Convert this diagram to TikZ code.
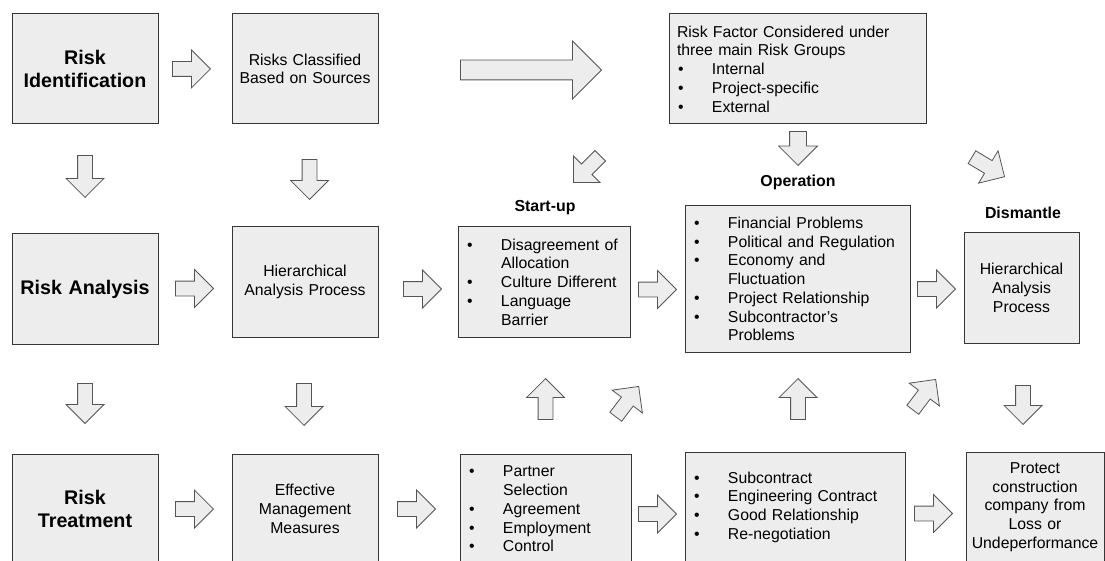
\documentclass[tikz,border=0pt]{standalone}
\usepackage{fontspec}
\setmainfont{Liberation Sans}
\usetikzlibrary{shapes.arrows}
\definecolor{boxgray}{RGB}{237,237,237}
\definecolor{edgegray}{RGB}{55,55,55}
\newcommand{\itm}{\makebox[35pt][l]{\hspace{1pt}\textbullet}}
\newcommand{\ind}{\hspace*{35pt}}

\begin{document}
\begin{tikzpicture}[x=1pt, y=-1pt,
    box/.style={draw=edgegray, fill=boxgray, line width=1pt, inner xsep=8pt, inner ysep=0pt,
      minimum height=110pt, font=\fontsize{15.8}{18.7}\selectfont},
    title/.style={box, align=center, text width=130pt, font=\bfseries\fontsize{19.7}{23}\selectfont},
    plain/.style={box, align=center, inner xsep=3pt, text width=140pt},
    head/.style={font=\bfseries\fontsize{15.9}{19}\selectfont},
    barrow/.style={single arrow, draw=edgegray!85, fill=boxgray, line width=0.8pt, inner xsep=0pt,
      inner ysep=7pt, single arrow head extend=11.5pt, minimum height=38pt, anchor=tip}]

    \useasboundingbox (0,0) rectangle (1105,561);
    \clip (0,0) rectangle (1105,561);

    % first row
    \node[title] (ident) at (85,69) {Risk\\Identification};
    \node[plain] (classif) at (305,69) {Risks Classified\\Based on Sources};
    \node[box, text width=241pt, align=left] (factor) at (797.5,69)
      {Risk Factor Considered under\\three main Risk Groups\\\itm Internal\\\itm Project-specific\\\itm External};

    % second row
    \node[title] (analysis) at (85,289) {Risk Analysis};
    \node[plain] (hier) at (305,282) {Hierarchical\\Analysis Process};
    \node[box, text width=156pt, align=left] (startup) at (544,282)
      {\itm Disagreement of\\\ind Allocation\\\itm Culture Different\\\itm Language\\\ind Barrier};
    \node[box, text width=209pt, align=left, minimum height=146pt] (oper) at (797.5,279)
      {\itm Financial Problems\\\itm Political and Regulation\\\itm Economy and\\\ind Fluctuation\\\itm Project Relationship\\\itm Subcontractor's\\\ind Problems};
    \node[plain, text width=109pt] (dism) at (1021.5,288) {Hierarchical\\Analysis\\Process};

    \node[head] (lstart) at (545,208) {Start-up};
    \node[head] (lop) at (798,182) {Operation};
    \node[head] (ldism) at (1023,213) {Dismantle};

    % third row
    \node[title] (treat) at (85,509) {Risk\\Treatment};
    \node[plain] (effect) at (305,509) {Effective\\Management\\Measures};
    \node[box, text width=155pt, align=left] (partner) at (545.5,509)
      {\itm Partner\\\ind Selection\\\itm Agreement\\\itm Employment\\\itm Control};
    \node[box, text width=204pt, align=left] (subc) at (795,507)
      {\itm Subcontract\\\itm Engineering Contract\\\itm Good Relationship\\\itm Re-negotiation};
    \node[plain, text width=134pt, inner xsep=2pt] (protect) at (1035,507)
      {Protect\\construction\\company from\\Loss or\\Undeperformance};

    % block arrows
    \node[barrow] (a1) at (211,69) {};
    \node[barrow, inner ysep=9.5pt, minimum height=141pt, single arrow head extend=19pt] (a2) at (602,70) {};
    \node[barrow, rotate=-90, minimum height=42pt] (d1) at (85,198) {};
    \node[barrow, rotate=-90, minimum height=40pt] (d2) at (309.5,200) {};
    \node[barrow, rotate=-90, minimum height=34pt, inner ysep=8pt, single arrow head extend=11pt] (d3) at (798,166) {};
    \node[barrow, rotate=225] (g1) at (573,183) {};
    \node[barrow, rotate=-31] (g2) at (1005,177) {};

    \node[barrow] (a3) at (214,288.5) {};
    \node[barrow] (a4) at (442,289) {};
    \node[barrow] (a5) at (677,289.5) {};
    \node[barrow] (a6) at (956,289) {};

    \node[barrow, rotate=-90, minimum height=40pt] (d4) at (85,424) {};
    \node[barrow, rotate=-90, minimum height=42pt] (d5) at (304,426) {};
    \node[barrow, rotate=90, minimum height=41pt] (u1) at (545.5,378) {};
    \node[barrow, rotate=53] (g3) at (639,386) {};
    \node[barrow, rotate=90, minimum height=41pt] (u2) at (798,378) {};
    \node[barrow, rotate=53] (g4) at (936,379) {};
    \node[barrow, rotate=-90, minimum height=39pt] (d6) at (1023,425) {};

    \node[barrow] (a7) at (214,509) {};
    \node[barrow] (a8) at (436,509) {};
    \node[barrow] (a9) at (677,514) {};
    \node[barrow] (a10) at (953,513.5) {};

\end{tikzpicture}
\end{document}
